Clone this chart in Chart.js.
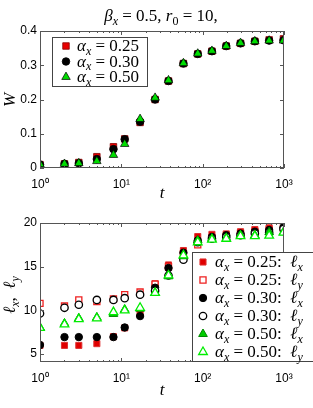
<!DOCTYPE html>
<html>
<head>
<meta charset="utf-8">
<script src="https://cdn.jsdelivr.net/npm/chart.js@4"></script>
<style>
  html, body { margin: 0; padding: 0; background: #fff; }
  #wrap { position: relative; width: 313px; height: 408px; overflow: hidden; }
  canvas { position: absolute; left: 0; }
  #top { top: 0; }
  #bot { top: 200px; }
</style>
</head>
<body>
<div id="wrap">
  <canvas id="top" width="313" height="200"></canvas>
  <canvas id="bot" width="313" height="208"></canvas>
</div>
<script>
/* ── data ── */
const times  = [1, 2, 3, 5, 8, 11, 17, 26, 38, 58, 87, 130, 195, 292, 438, 657, 985];
const alphas = ['0.25', '0.30', '0.50'];

const W_25 = [0.010, 0.012, 0.016, 0.033, 0.062, 0.085, 0.133, 0.200, 0.254, 0.305, 0.333, 0.341, 0.356, 0.364, 0.370, 0.374, 0.377];
const W_30 = [0.010, 0.012, 0.014, 0.026, 0.055, 0.084, 0.135, 0.200, 0.254, 0.305, 0.333, 0.341, 0.356, 0.364, 0.370, 0.372, 0.373];
const W_50 = [0.011, 0.012, 0.014, 0.020, 0.038, 0.070, 0.143, 0.205, 0.256, 0.306, 0.334, 0.342, 0.356, 0.365, 0.370, 0.372, 0.372];

const lx_25 = [6.0, 6.0, 6.0, 6.2, 7.0, 8.0, 9.6, 13.05, 15.2, 16.85, 18.45, 18.7, 18.75, 19.0, 19.25, 19.45, 19.6];
const ly_25 = [10.8, 10.5, 11.2, 11.0, 11.3, 11.8, 12.1, 13.0, 15.0, 16.5, 17.5, 18.3, 18.5, 18.8, 19.0, 19.2, 19.4];
const lx_30 = [6.05, 6.95, 6.95, 6.95, 6.95, 8.05, 9.35, 12.6, 14.85, 16.6, 18.0, 18.4, 18.6, 18.8, 19.0, 19.2, 19.5];
const ly_30 = [9.65, 10.3, 10.65, 11.2, 11.2, 11.4, 11.8, 12.25, 14.0, 15.8, 17.8, 18.2, 18.4, 18.6, 18.8, 18.9, 19.3];
const lx_50 = [8.05, 8.5, 9.1, 9.2, 9.6, 10.1, 10.2, 12.0, 13.9, 16.2, 18.0, 18.2, 18.3, 18.6, 18.6, 18.95, 18.95];
const ly_50 = [8.0, 8.4, 9.0, 9.1, 9.8, 10.0, 10.3, 12.0, 14.0, 16.3, 17.8, 18.1, 18.2, 18.5, 18.5, 18.55, 18.9];

const W_ticks = [0, 0.1, 0.2, 0.3, 0.4];
const l_ticks = [5, 10, 15, 20];

/* ── helpers ── */
const SERIF = '"Liberation Serif", "DejaVu Serif", serif';
const SUP = { 0: '\u2070', 1: '\u00b9', 2: '\u00b2', 3: '\u00b3' };

const pts = (ys) => times.map((t, i) => ({ x: t, y: ys[i] }));

/* parts: [text, kind]  kind: i = italic, r = roman, s = italic sub, sr = roman sub */
function mathText(ctx, parts, x, y, size, align = 'left') {
  const fontOf = (k) => {
    if (k === 'i') return `italic ${size}px ${SERIF}`;
    if (k === 'r') return `${size}px ${SERIF}`;
    if (k === 's') return `italic ${Math.round(size * 0.7)}px ${SERIF}`;
    return `${Math.round(size * 0.7)}px ${SERIF}`;
  };
  let total = 0;
  parts.forEach(([t, k]) => { ctx.font = fontOf(k); total += ctx.measureText(t).width; });
  let cx = align === 'center' ? x - total / 2 : x;
  ctx.textBaseline = 'alphabetic';
  ctx.textAlign = 'left';
  ctx.fillStyle = '#000';
  parts.forEach(([t, k]) => {
    ctx.font = fontOf(k);
    const dy = (k === 's' || k === 'sr') ? size * 0.22 : 0;
    ctx.fillText(t, cx, y + dy);
    cx += ctx.measureText(t).width;
  });
}

function drawMarker(ctx, ds, x, y) {
  ctx.save();
  ctx.fillStyle = ds.backgroundColor;
  ctx.strokeStyle = ds.borderColor;
  ctx.lineWidth = ds.borderWidth;
  Chart.helpers.drawPoint(ctx, { pointStyle: ds.pointStyle, radius: ds.pointRadius, rotation: 0, borderWidth: ds.borderWidth }, x, y);
  ctx.restore();
}

/* ── frame, inward ticks, labels, legend ── */
const decor = {
  id: 'decor',
  afterDraw(chart, args, o) {
    const { ctx, chartArea: a, scales } = chart;
    ctx.save();
    ctx.strokeStyle = '#555';
    ctx.lineWidth = 1;
    ctx.strokeRect(a.left + 0.5, a.top + 0.5, a.right - a.left - 1, a.bottom - a.top - 1);
    ctx.beginPath();
    for (let d = 1; d <= 1000; d *= 10) {
      for (let m = 1; m < 10; m++) {
        const v = d * m;
        if (v > 1000) break;
        const px = Math.round(scales.x.getPixelForValue(v)) + 0.5;
        const len = m === 1 ? 4 : 2;
        ctx.moveTo(px, a.bottom); ctx.lineTo(px, a.bottom - len);
        ctx.moveTo(px, a.top); ctx.lineTo(px, a.top + len);
      }
    }
    o.yTicks.forEach(v => {
      const py = Math.round(scales.y.getPixelForValue(v)) + 0.5;
      ctx.moveTo(a.left, py); ctx.lineTo(a.left + 4, py);
      ctx.moveTo(a.right, py); ctx.lineTo(a.right - 4, py);
    });
    ctx.stroke();

    if (o.title) mathText(ctx, o.title, 161, 21, 17, 'center');
    mathText(ctx, [['t', 'i']], (a.left + a.right) / 2, o.tY, 17, 'center');

    ctx.save();
    ctx.translate(15, o.yLabelY);
    ctx.rotate(-Math.PI / 2);
    mathText(ctx, o.yLabel, 0, 0, 17, 'center');
    ctx.restore();

    const L = o.legend;
    ctx.fillStyle = '#fff';
    ctx.fillRect(L.x, L.y, L.w, L.h);
    ctx.strokeStyle = '#444';
    ctx.strokeRect(L.x + 0.5, L.y + 0.5, L.w, L.h);
    chart.data.datasets.forEach((ds, i) => {
      const ry = L.row0 + i * L.rowH;
      drawMarker(ctx, ds, L.mx, ry);
      mathText(ctx, L.labels[i], L.tx, ry + 5, L.size);
    });
    ctx.restore();
  }
};

function xAxis(h, pad) {
  return {
    type: 'logarithmic', min: 1, max: 1000,
    grid: { display: false, drawTicks: false }, border: { display: false },
    ticks: {
      autoSkip: false, maxRotation: 0, padding: pad, color: '#000',
      font: { family: '"Liberation Sans", Arial, sans-serif', size: 12 },
      callback: (v) => { const e = Math.log10(v); return Number.isInteger(e) ? '10' + SUP[e] : ''; }
    },
    afterFit: (s) => { s.height = h; }
  };
}

function yAxis(min, max, ticks, fmt) {
  return {
    min, max,
    grid: { display: false, drawTicks: false }, border: { display: false },
    ticks: { padding: 3, color: '#000', font: { family: '"Liberation Sans", Arial, sans-serif', size: 12 }, callback: fmt },
    afterBuildTicks: (s) => { s.ticks = ticks.map(v => ({ value: v })); },
    afterFit: (s) => { s.width = 40; }
  };
}

function series(data, style, bg, border, r, bw, i) {
  return {
    data: pts(data), showLine: false, pointStyle: style, pointRadius: r, pointHoverRadius: r,
    backgroundColor: bg, borderColor: border, borderWidth: bw, order: 10 - i
  };
}

/* ── top: W(t) ── */
new Chart(document.getElementById('top'), {
  type: 'scatter',
  data: {
    datasets: [
      series(W_25, 'rect',     '#e80000', '#8a0000', 4.6, 0.8, 0),
      series(W_30, 'circle',   '#000000', '#000000', 3.8, 0.8, 1),
      series(W_50, 'triangle', '#00dd00', '#000000', 4.9, 0.7, 2),
    ]
  },
  options: {
    responsive: false, animation: false, events: [],
    layout: { padding: { top: 31, right: 29, left: 0, bottom: 0 } },
    plugins: {
      legend: { display: false }, tooltip: { enabled: false },
      decor: {
        yTicks: W_ticks, tY: 198, yLabelY: 100, yLabel: [['W', 'i']],
        title: [['β', 'i'], ['x', 's'], [' = 0.5, ', 'r'], ['r', 'i'], ['0', 'sr'], [' = 10,', 'r']],
        legend: {
          x: 52, y: 37, w: 95, h: 49, row0: 46, rowH: 15.5, mx: 66, tx: 77, size: 17,
          labels: alphas.map(a => [['α', 'i'], ['x', 's'], [' = ' + a, 'r']])
        }
      }
    },
    scales: {
      x: xAxis(32, 9),
      y: yAxis(0, 0.4, W_ticks, (v) => v === 0 ? '0' : v.toFixed(1))
    }
  },
  plugins: [decor]
});

/* ── bottom: l_x, l_y ── */
const comps = ['x', 'y'];
const botLabels = [];
alphas.forEach(a => comps.forEach(c => botLabels.push([['α', 'i'], ['x', 's'], [' = ' + a + ':  ', 'r'], ['ℓ', 'i'], [c, 's']])));

new Chart(document.getElementById('bot'), {
  type: 'scatter',
  data: {
    datasets: [
      series(lx_25, 'rect',     '#e00000', '#e03030', 4.3, 1,   0),
      series(ly_25, 'rect',     '#ffffff', '#ee2020', 4.3, 1.3, 1),
      series(lx_30, 'circle',   '#000000', '#000000', 3.7, 1,   2),
      series(ly_30, 'circle',   '#ffffff', '#000000', 3.7, 1.3, 3),
      series(lx_50, 'triangle', '#00cc00', '#008800', 5,   1,   4),
      series(ly_50, 'triangle', '#ffffff', '#00ee00', 5,   1.3, 5),
    ]
  },
  options: {
    responsive: false, animation: false, events: [],
    layout: { padding: { top: 23, right: 29, left: 0, bottom: 0 } },
    plugins: {
      legend: { display: false }, tooltip: { enabled: false },
      decor: {
        yTicks: l_ticks, tY: 195, yLabelY: 95,
        yLabel: [['ℓ', 'i'], ['x', 's'], [',  ', 'r'], ['ℓ', 'i'], ['y', 's']],
        legend: {
          x: 192, y: 52, w: 130, h: 109, row0: 62, rowH: 18, mx: 203, tx: 215, size: 17,
          labels: botLabels
        }
      }
    },
    scales: {
      x: xAxis(46, 9),
      y: yAxis(4.1, 20, l_ticks, (v) => String(v))
    }
  },
  plugins: [decor]
});
</script>
</body>
</html>
